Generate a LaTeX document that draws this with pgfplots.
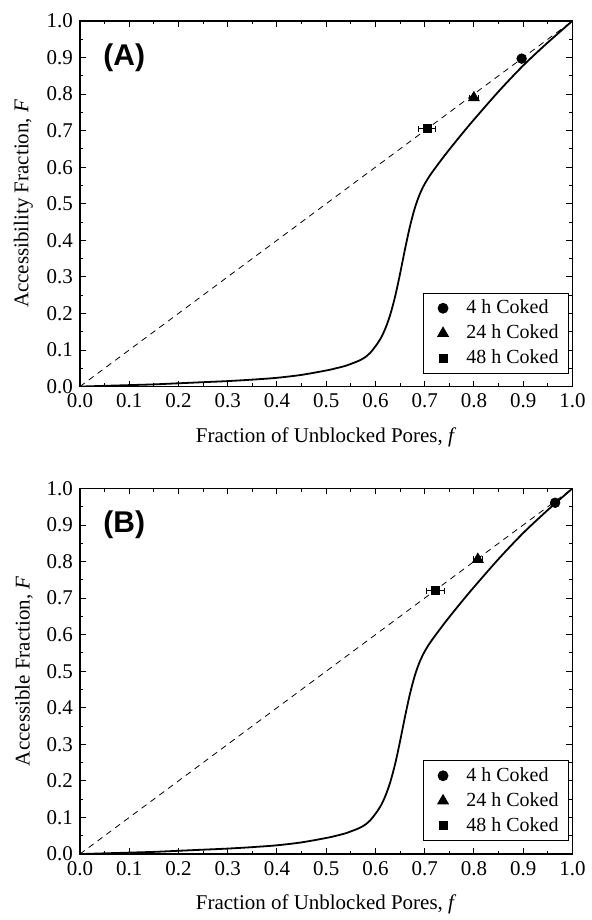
\documentclass[border=0pt]{standalone}
\usepackage{fontspec}
\setmainfont{Liberation Serif}
\newfontfamily\arialfont{Liberation Sans}
\usepackage{pgfplots}
\pgfplotsset{compat=1.18}
\pgfplotstableread{
f F
0.00 0.000
0.05 0.002
0.10 0.004
0.15 0.006
0.20 0.009
0.25 0.012
0.30 0.015
0.35 0.019
0.40 0.024
0.45 0.032
0.50 0.044
0.52 0.050
0.54 0.057
0.55 0.062
0.56 0.067
0.57 0.073
0.58 0.081
0.59 0.093
0.60 0.110
0.61 0.130
0.62 0.158
0.63 0.196
0.64 0.246
0.65 0.308
0.66 0.375
0.67 0.437
0.68 0.488
0.69 0.526
0.70 0.554
0.71 0.576
0.72 0.595
0.74 0.631
0.76 0.665
0.78 0.698
0.80 0.730
0.85 0.807
0.90 0.878
0.95 0.941
1.00 1.000
}\curvedata
\begin{document}
\begin{tikzpicture}
\pgfplotsset{
 myax/.style={
  scale only axis, width=246.5pt, height=183pt,
  xmin=0,xmax=1,ymin=0,ymax=1,
  xtick={0,0.1,0.2,0.3,0.4,0.5,0.6,0.7,0.8,0.9,1.0},
  ytick={0,0.1,0.2,0.3,0.4,0.5,0.6,0.7,0.8,0.9,1.0},
  minor x tick num=1, minor y tick num=1,
  tick align=inside, major tick length=3pt, minor tick length=1.6pt,
  tick style={line width=0.5pt, black},
  xticklabel style={/pgf/number format/.cd, fixed, fixed zerofill, precision=1},
  yticklabel style={/pgf/number format/.cd, fixed, fixed zerofill, precision=1},
  /pgf/number format/assume math mode=true,
  tick label style={font=\fontsize{10.5}{12}\selectfont},
  label style={font=\fontsize{10.5}{12}\selectfont},
  xlabel style={yshift=-3pt},
  axis line style={line width=0.8pt},
  xlabel={Fraction of Unblocked Pores, \textit{f}},
  legend style={at={(0.993,0.035)}, anchor=south east, draw=black, line width=0.4pt,
     font=\fontsize{10}{11}\selectfont, row sep=1.5pt, inner xsep=3pt, inner ysep=2pt,
     nodes={inner xsep=2pt, inner ysep=1.3pt}},
  legend cell align=left,
  legend image code/.code={\path (0pt,0pt) (16pt,0pt); \draw[##1] plot coordinates {(6.5pt,0pt)};},
 }
}
\begin{axis}[myax, ylabel={Accessibility Fraction, \textit{F}}]
\addlegendimage{only marks, mark=*, mark size=2.5pt, black}
\addlegendentry{4 h Coked}
\addlegendimage{only marks, mark=triangle*, mark size=3.1pt, black}
\addlegendentry{24 h Coked}
\addlegendimage{only marks, mark=square*, mark size=2pt, black}
\addlegendentry{48 h Coked}
\addplot[black, line width=0.4pt, dash pattern=on 3pt off 2.5pt, forget plot] coordinates {(0,0) (1,1)};
\addplot[black, line width=0.9pt, smooth, tension=0.5, forget plot] table {\curvedata};
\addplot[black, only marks, mark=*, mark size=2.4pt, forget plot] coordinates {(0.897,0.897)};
\addplot[black, only marks, mark=triangle*, mark size=3.1pt, forget plot,
  error bars/.cd, x dir=both, x explicit, error bar style={line width=0.4pt}, error mark options={rotate=90, mark size=1.5pt, line width=0.4pt}]
  coordinates {(0.800,0.790) +- (0.009,0)};
\addplot[black, only marks, mark=square*, mark size=2pt, forget plot,
  error bars/.cd, x dir=both, x explicit, error bar style={line width=0.4pt}, error mark options={rotate=90, mark size=1.5pt, line width=0.4pt}]
  coordinates {(0.705,0.705) +- (0.017,0)};
\node[anchor=west, inner sep=0pt, font=\arialfont\bfseries\fontsize{15}{16}\selectfont] at (axis cs:0.047,0.9) {(A)};
\end{axis}
\begin{axis}[myax, yshift=-234pt, ylabel={Accessible Fraction, \textit{F}}]
\addlegendimage{only marks, mark=*, mark size=2.5pt, black}
\addlegendentry{4 h Coked}
\addlegendimage{only marks, mark=triangle*, mark size=3.1pt, black}
\addlegendentry{24 h Coked}
\addlegendimage{only marks, mark=square*, mark size=2pt, black}
\addlegendentry{48 h Coked}
\addplot[black, line width=0.4pt, dash pattern=on 3pt off 2.5pt, forget plot] coordinates {(0,0) (1,1)};
\addplot[black, line width=0.9pt, smooth, tension=0.5, forget plot] table {\curvedata};
\addplot[black, only marks, mark=*, mark size=2.4pt, forget plot] coordinates {(0.965,0.961)};
\addplot[black, only marks, mark=triangle*, mark size=3.1pt, forget plot,
  error bars/.cd, x dir=both, x explicit, error bar style={line width=0.4pt}, error mark options={rotate=90, mark size=1.5pt, line width=0.4pt}]
  coordinates {(0.808,0.806) +- (0.010,0)};
\addplot[black, only marks, mark=square*, mark size=2pt, forget plot,
  error bars/.cd, x dir=both, x explicit, error bar style={line width=0.4pt}, error mark options={rotate=90, mark size=1.5pt, line width=0.4pt}]
  coordinates {(0.722,0.720) +- (0.018,0)};
\node[anchor=west, inner sep=0pt, font=\arialfont\bfseries\fontsize{15}{16}\selectfont] at (axis cs:0.047,0.9) {(B)};
\end{axis}
\pgfresetboundingbox
\path[use as bounding box] (-40pt,-267pt) rectangle (256pt,193.5pt);
\end{tikzpicture}
\end{document}
